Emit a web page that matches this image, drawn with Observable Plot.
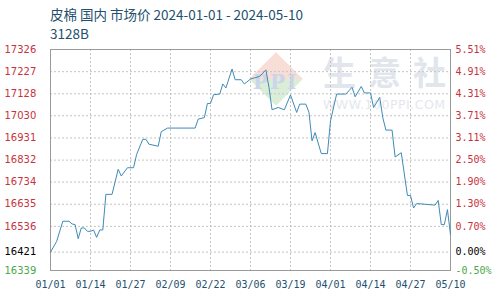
<!DOCTYPE html>
<html>
<head>
<meta charset="utf-8">
<script src="https://cdn.jsdelivr.net/npm/d3@7"></script>
<script src="https://cdn.jsdelivr.net/npm/@observablehq/plot@0.6"></script>
<style>
  body { margin: 0; background: #fff; }
  #wrap { position: relative; width: 500px; height: 300px; overflow: hidden; }
  .t { position: absolute; left: 50px; font-family: "Noto Sans CJK SC", sans-serif; font-size: 13.5px; color: #24506e; white-space: nowrap; line-height: 1; }
  #chart { position: absolute; left: 0; top: 0; }
  .wm { position: absolute; white-space: nowrap; line-height: 1; }
</style>
</head>
<body>
<div id="wrap">
  <div class="t" style="top:8px">皮棉 国内 市场价 2024-01-01 - 2024-05-10</div>
  <div class="t" style="top:27px">3128B</div>
  <div class="wm" style="left:257px; top:60px; width:38px; height:38px; transform: rotate(45deg); background: linear-gradient(135deg, #f8d9d2 0%, #f8d9d2 50%, #d6ecd3 50%, #d6ecd3 100%); opacity:0.9"></div>
  <div class="wm" style="left:253px; top:72px; font-family:'DejaVu Serif',serif; font-weight:bold; font-size:20px; color:#cbd5ea; letter-spacing:2px">PPI</div>
  <div class="wm" style="left:323px; top:55px; font-family:'Noto Sans CJK SC',sans-serif; font-weight:bold; font-size:33px; color:#e1e5ec; letter-spacing:12px">生意社</div>
  <div class="wm" style="left:323px; top:99px; font-family:'DejaVu Sans',sans-serif; font-size:12.5px; color:#e4e7ec; letter-spacing:0.5px">WWW.100PPI.COM</div>
  <div id="chart"></div>
</div>
<script>
const dates = [
  "2024-01-01","2024-01-03","2024-01-05","2024-01-07","2024-01-08","2024-01-09","2024-01-10","2024-01-11",
  "2024-01-12","2024-01-13","2024-01-14","2024-01-15","2024-01-16","2024-01-17","2024-01-18","2024-01-19",
  "2024-01-21","2024-01-23","2024-01-24","2024-01-26","2024-01-28","2024-01-29","2024-01-31","2024-02-01",
  "2024-02-02","2024-02-05","2024-02-06","2024-02-08","2024-02-17","2024-02-18","2024-02-20","2024-02-21",
  "2024-02-22","2024-02-23","2024-02-25","2024-02-26","2024-02-27","2024-02-29","2024-03-01","2024-03-03",
  "2024-03-04","2024-03-06","2024-03-09","2024-03-11","2024-03-12","2024-03-13","2024-03-15","2024-03-17",
  "2024-03-19","2024-03-21","2024-03-22","2024-03-24","2024-03-25","2024-03-26","2024-03-27","2024-03-29",
  "2024-03-31","2024-04-01","2024-04-03","2024-04-06","2024-04-08","2024-04-09","2024-04-11","2024-04-12",
  "2024-04-14","2024-04-15","2024-04-17","2024-04-18","2024-04-19","2024-04-21","2024-04-22","2024-04-24",
  "2024-04-26","2024-04-27","2024-04-28","2024-04-29","2024-05-05","2024-05-06","2024-05-07","2024-05-08",
  "2024-05-09","2024-05-10"
];
const prices = [
  16421,16469,16559,16559,16547,16544,16481,16529,
  16529,16514,16514,16520,16487,16520,16520,16679,
  16679,16791,16761,16798,16798,16858,16925,16925,
  16903,16894,16959,16975,16975,17015,17022,17085,
  17085,17124,17127,17172,17154,17239,17191,17191,
  17172,17194,17206,17235,17157,17057,17067,17057,
  17123,17045,17082,17082,17045,16918,16955,16861,
  16861,17007,17127,17127,17157,17115,17161,17132,
  17132,17067,17112,17022,16966,16966,16846,16865,
  16674,16674,16618,16638,16631,16652,16544,16544,
  16611,16499
];
const xTicks = ["2024-01-01","2024-01-14","2024-01-27","2024-02-09","2024-02-22","2024-03-06",
                "2024-03-19","2024-04-01","2024-04-14","2024-04-27","2024-05-10"];
const xTickLabels = ["01/01","01/14","01/27","02/09","02/22","03/06","03/19","04/01","04/14","04/27","05/10"];
const yTicks = [17326,17227,17128,17030,16931,16832,16734,16635,16536,16421,16339];
const pctLabels = ["5.51%","4.91%","4.31%","3.71%","3.11%","2.50%","1.90%","1.30%","0.70%","0.00%","-0.50%"];
const basePrice = 16421;

const data = dates.map((d, i) => ({date: new Date(d), price: prices[i]}));
const xTickDates = xTicks.map(d => new Date(d));
const labelColor = v => v > basePrice ? "#c8323c" : v < basePrice ? "#4aa84a" : "#000000";

const chart = Plot.plot({
  width: 500,
  height: 300,
  marginTop: 49,
  marginBottom: 30,
  marginLeft: 50,
  marginRight: 50,
  style: {background: "transparent", overflow: "visible"},
  x: {type: "utc", domain: [new Date("2024-01-01"), new Date("2024-05-10")], axis: null},
  y: {domain: [16339, 17326], axis: null},
  color: {type: "identity"},
  marks: [
    Plot.gridX(xTickDates.slice(1, -1), {stroke: "#c4c4c4", strokeOpacity: 1, strokeDasharray: "2,2"}),
    Plot.gridY(yTicks.slice(1, -1), {stroke: "#c4c4c4", strokeOpacity: 1, strokeDasharray: "2,2"}),
    Plot.frame({stroke: "#9a9a9a"}),
    Plot.line(data, {x: "date", y: "price", stroke: "#3f8bb6", strokeWidth: 1}),
    Plot.text(xTickDates, {x: d => d, text: (d, i) => xTickLabels[i], frameAnchor: "bottom", dy: 17,
      fill: "#24506e", fontFamily: "DejaVu Sans Mono, monospace", fontSize: 10}),
    Plot.text(yTicks, {y: d => d, text: d => String(d), frameAnchor: "left", textAnchor: "start", dx: -46,
      fill: d => labelColor(d), fontFamily: "DejaVu Sans, sans-serif", fontSize: 10}),
    Plot.text(yTicks, {y: d => d, text: (d, i) => pctLabels[i], frameAnchor: "right", textAnchor: "start", dx: 5,
      fill: d => labelColor(d), fontFamily: "DejaVu Sans Mono, monospace", fontSize: 10})
  ]
});
document.getElementById("chart").appendChild(chart);
</script>
</body>
</html>
